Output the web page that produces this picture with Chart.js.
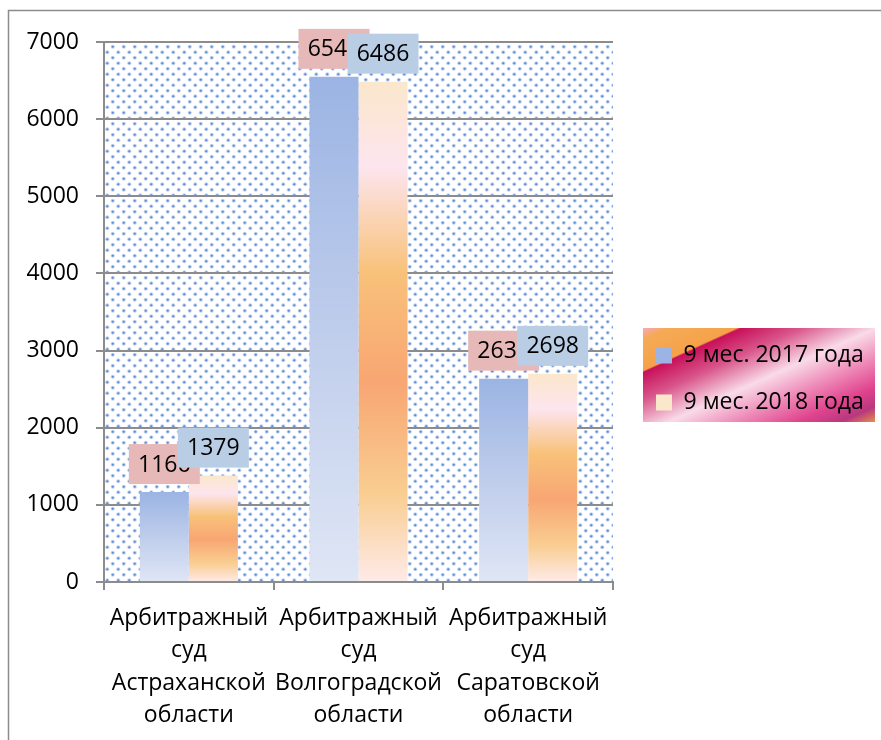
<!DOCTYPE html>
<html lang="ru">
<head>
<meta charset="UTF-8">
<title>Арбитражные суды: 9 мес. 2017 и 2018 года</title>
<script src="https://cdn.jsdelivr.net/npm/chart.js"></script>
<style>
  html, body { margin: 0; padding: 0; background: #fff; }
  canvas { display: block; }
</style>
</head>
<body>
<canvas id="chart" width="881" height="740"></canvas>
<script>
// data
const courts = [
  ['Арбитражный', 'суд', 'Астраханской', 'области'],
  ['Арбитражный', 'суд', 'Волгоградской', 'области'],
  ['Арбитражный', 'суд', 'Саратовской', 'области']
];
const periods = ['9 мес. 2017 года', '9 мес. 2018 года'];
const cases2017 = [1166, 6548, 2636];
const cases2018 = [1379, 6486, 2698];
const yMax = 7000;
const yStep = 1000;

const FONT = "'Open Sans', 'Noto Sans', sans-serif";
const FONT_SIZE = 23;
const GRID = '#8c8c8c';
const tagColors = ['#e6b9b8', '#b9cde5'];

Chart.defaults.font.family = FONT;
Chart.defaults.font.size = FONT_SIZE;
Chart.defaults.color = '#000';

const canvas = document.getElementById('chart');
const ctx = canvas.getContext('2d');

// plot area ends at x=613; the legend box is capped at a quarter of the
// remaining width by the layout, so pick the padding from that
const plotRight = 613;
const padRight = 881 - plotRight * 4 / 3;
const legendPad = 24, legendBox = 16;

function dotPattern() {
  const t = document.createElement('canvas');
  t.width = 11; t.height = 11;
  const g = t.getContext('2d');
  g.fillStyle = '#fff';
  g.fillRect(0, 0, 11, 11);
  [[2.75, 2.75], [8.25, 8.25]].forEach(([x, y]) => {
    g.fillStyle = 'rgba(120,160,220,0.45)';
    g.beginPath(); g.arc(x, y, 2.1, 0, Math.PI * 2); g.fill();
    g.fillStyle = '#5a88d2';
    g.beginPath(); g.arc(x, y, 1.1, 0, Math.PI * 2); g.fill();
  });
  return ctx.createPattern(t, 'repeat');
}
const dots = dotPattern();

// gradient for each bar, from its top down to zero
function barFill(stops, flat) {
  return (c) => {
    const chart = c.chart;
    if (c.type !== 'data' || !chart.chartArea) return flat;
    const y = chart.scales.y;
    const top = y.getPixelForValue(c.raw);
    const bottom = y.getPixelForValue(0);
    const g = chart.ctx.createLinearGradient(0, top, 0, bottom);
    stops.forEach(([p, col]) => g.addColorStop(p, col));
    return g;
  };
}
const blueStops = [[0, '#9bb4e3'], [0.5, '#bfcdec'], [1, '#dfe6f5']];
const peachStops = [[0, '#fbe7cc'], [0.17, '#fde5ee'], [0.38, '#f8c27a'],
                    [0.6, '#f8a673'], [0.82, '#f9cd90'], [1, '#feeae8']];

const backdrop = {
  id: 'backdrop',
  afterLayout(chart) {
    const lg = chart.legend;
    const w = lg.right - lg.left;
    lg.left = chart.chartArea.right + 19;
    lg.right = lg.left + Math.max(w, 240);
    lg.top -= 12; lg.bottom -= 12;
  },
  beforeDraw(chart) {
    const c = chart.ctx;
    const a = chart.chartArea;
    c.save();
    // outer frame
    c.strokeStyle = '#8c8c8c';
    c.lineWidth = 1.5;
    c.strokeRect(8.5, 10.5, 1000, 1000);
    // dotted plot area
    c.fillStyle = dots;
    c.fillRect(a.left, a.top, a.right - a.left, a.bottom - a.top);
    // legend background
    const hb = chart.legend.legendHitBoxes;
    if (hb && hb.length) {
      const x = hb[0].left - 13, y = hb[0].top - 16, w = 232, h = 94;
      const cx = x + w / 2, cy = y + h / 2;
      const dx = 0.413 * 91, dy = 0.911 * 91;
      const g = c.createLinearGradient(cx - dx, cy - dy, cx + dx, cy + dy);
      g.addColorStop(0, '#f7a8c0');
      g.addColorStop(0.06, '#f6aa55');
      g.addColorStop(0.215, '#f5a24a');
      g.addColorStop(0.225, '#c8105a');
      g.addColorStop(0.36, '#d8558a');
      g.addColorStop(0.53, '#f9dbe8');
      g.addColorStop(0.68, '#ee8ab8');
      g.addColorStop(0.82, '#e0448e');
      g.addColorStop(0.92, '#b8387e');
      g.addColorStop(1, '#e8904a');
      c.fillStyle = g;
      c.fillRect(x, y, w, h);
    }
    c.restore();
  }
};

const valueTags = {
  id: 'valueTags',
  afterDatasetsDraw(chart) {
    const c = chart.ctx;
    const w = 71, h = 40, gap = 8;
    c.save();
    c.font = FONT_SIZE + 'px ' + FONT;
    c.textAlign = 'center';
    c.textBaseline = 'middle';
    chart.data.datasets.forEach((ds, i) => {
      chart.getDatasetMeta(i).data.forEach((bar, j) => {
        const top = bar.y - gap - h;
        c.fillStyle = tagColors[i];
        c.fillRect(bar.x - w / 2, top, w, h);
        c.fillStyle = '#000';
        c.fillText(String(ds.data[j]), bar.x, top + h / 2 + 1);
      });
    });
    c.restore();
  }
};

new Chart(ctx, {
  type: 'bar',
  data: {
    labels: courts,
    datasets: [
      {
        label: periods[0],
        data: cases2017,
        backgroundColor: barFill(blueStops, '#b3c5ea'),
        borderWidth: 0
      },
      {
        label: periods[1],
        data: cases2018,
        backgroundColor: barFill(peachStops, '#f8c79c'),
        borderWidth: 0
      }
    ]
  },
  options: {
    responsive: false,
    animation: false,
    categoryPercentage: 0.578,
    barPercentage: 1,
    layout: { padding: { left: 0, top: 42, right: padRight, bottom: 0 } },
    plugins: {
      legend: {
        position: 'right',
        labels: {
          boxWidth: legendBox,
          boxHeight: legendBox,
          padding: legendPad,
          color: '#000',
          font: { size: FONT_SIZE }
        }
      },
      tooltip: { enabled: false }
    },
    scales: {
      x: {
        afterFit(s) { s.height = 158; },
        grid: {
          drawOnChartArea: false,
          drawTicks: true,
          tickLength: 8,
          color: GRID,
          lineWidth: 2
        },
        border: { color: GRID, width: 2 },
        ticks: {
          autoSkip: false,
          maxRotation: 0,
          padding: 12,
          font: { size: FONT_SIZE, lineHeight: 1.41 }
        }
      },
      y: {
        min: 0,
        max: yMax,
        afterFit(s) { s.width = 104; },
        grid: { color: GRID, lineWidth: 2, tickLength: 8 },
        border: { color: GRID, width: 2 },
        ticks: {
          stepSize: yStep,
          padding: 17,
          font: { size: FONT_SIZE },
          callback: (v) => String(v)
        }
      }
    }
  },
  plugins: [backdrop, valueTags]
});
</script>
</body>
</html>
